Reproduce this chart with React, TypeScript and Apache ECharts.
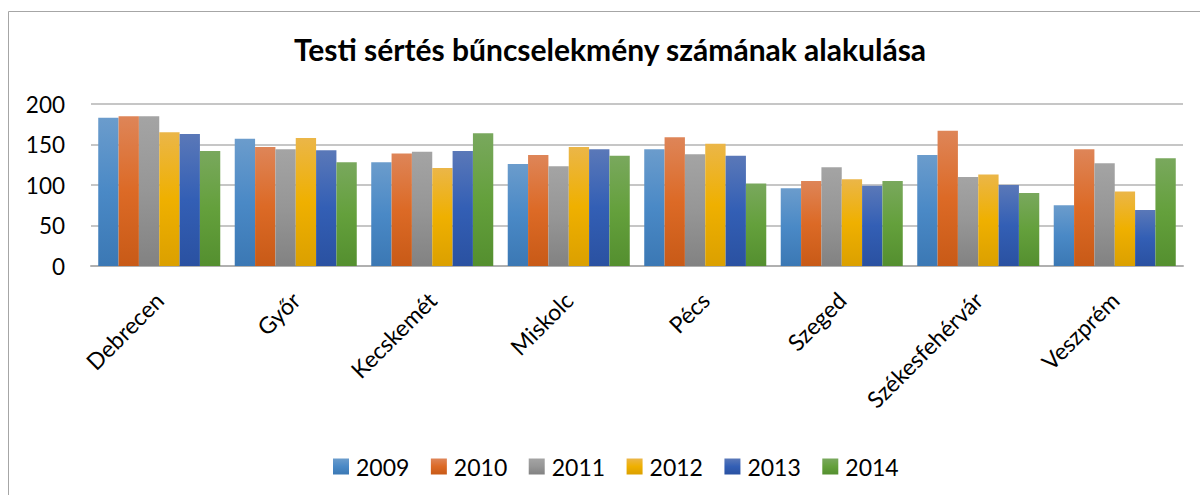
import React, { useEffect, useRef } from "react";
import * as echarts from "echarts";

const categories = ["Debrecen", "Győr", "Kecskemét", "Miskolc", "Pécs", "Szeged", "Székesfehérvár", "Veszprém"];
const years = ["2009", "2010", "2011", "2012", "2013", "2014"];
const v2009 = [183, 157, 128, 126, 144, 96, 137, 75];
const v2010 = [185, 147, 139, 137, 159, 105, 167, 144];
const v2011 = [185, 144, 141, 123, 138, 122, 110, 127];
const v2012 = [165, 158, 121, 147, 151, 107, 113, 92];
const v2013 = [163, 143, 142, 144, 136, 99, 100, 69];
const v2014 = [142, 128, 164, 136, 102, 105, 90, 133];
const seriesValues = [v2009, v2010, v2011, v2012, v2013, v2014];
const yTicks = [0, 50, 100, 150, 200];

const gradients: [string, string, string][] = [
  ["#6b9ccc", "#4a89c6", "#3b78b4"],
  ["#de8558", "#dc6a26", "#c85a17"],
  ["#a4a4a4", "#969696", "#828282"],
  ["#ebb648", "#efb000", "#dba000"],
  ["#5a78b8", "#335fb5", "#2a51a1"],
  ["#79a85d", "#64a03c", "#548f2f"],
];

export default function App() {
  const ref = useRef<HTMLDivElement>(null);
  useEffect(() => {
    if (!ref.current) return;
    const chart = echarts.init(ref.current, undefined, { renderer: "svg" });
    const font = "Lato, 'Open Sans', sans-serif";
    chart.setOption({
      animation: false,
      backgroundColor: "#ffffff",
      textStyle: { fontFamily: font },
      title: {
        text: "Testi sértés bűncselekmény számának alakulása",
        left: 610,
        textAlign: "center",
        top: 34,
        padding: 0,
        textStyle: { fontFamily: font, fontSize: 30, fontWeight: "bold", color: "#000000" },
      },
      graphic: [
        {
          type: "rect",
          shape: { x: 8.5, y: 11.5, width: 1300, height: 600 },
          style: { fill: "none", stroke: "#a6a6a6", lineWidth: 1 },
          silent: true,
        },
      ],
      legend: {
        data: years,
        left: 333,
        top: 455,
        padding: 0,
        itemWidth: 16,
        itemHeight: 16,
        itemGap: 21.5,
        icon: "rect",
        textStyle: { fontFamily: font, fontSize: 23, color: "#000000", padding: [0, 0, 0, 2] },
      },
      grid: { left: 91, right: 17, top: 104, bottom: 229, containLabel: false },
      xAxis: {
        type: "category",
        data: categories,
        axisLine: { show: true, lineStyle: { color: "#b0b0b0", width: 2 } },
        axisTick: { show: false },
        axisLabel: {
          rotate: 45,
          fontSize: 23,
          color: "#000000",
          margin: 30,
          interval: 0,
          fontFamily: font,
        },
      },
      yAxis: {
        type: "value",
        min: yTicks[0],
        max: yTicks[yTicks.length - 1],
        interval: 50,
        axisLine: { show: false },
        axisTick: { show: false },
        splitLine: { lineStyle: { color: "#b3b3b3", width: 1.5 } },
        axisLabel: { fontSize: 22.5, color: "#000000", margin: 26, fontFamily: font },
      },
      series: years.map((y, i) => ({
        name: y,
        type: "bar",
        data: seriesValues[i],
        barGap: "0%",
        barCategoryGap: "10.6%",
        itemStyle: {
          color: new echarts.graphic.LinearGradient(0, 0, 0, 1, [
            { offset: 0, color: gradients[i][0] },
            { offset: 0.5, color: gradients[i][1] },
            { offset: 1, color: gradients[i][2] },
          ]),
        },
      })),
    });
    return () => chart.dispose();
  }, []);
  return (
    <div
      ref={ref}
      style={{ position: "fixed", left: 0, top: 0, width: 1200, height: 495 }}
    />
  );
}
